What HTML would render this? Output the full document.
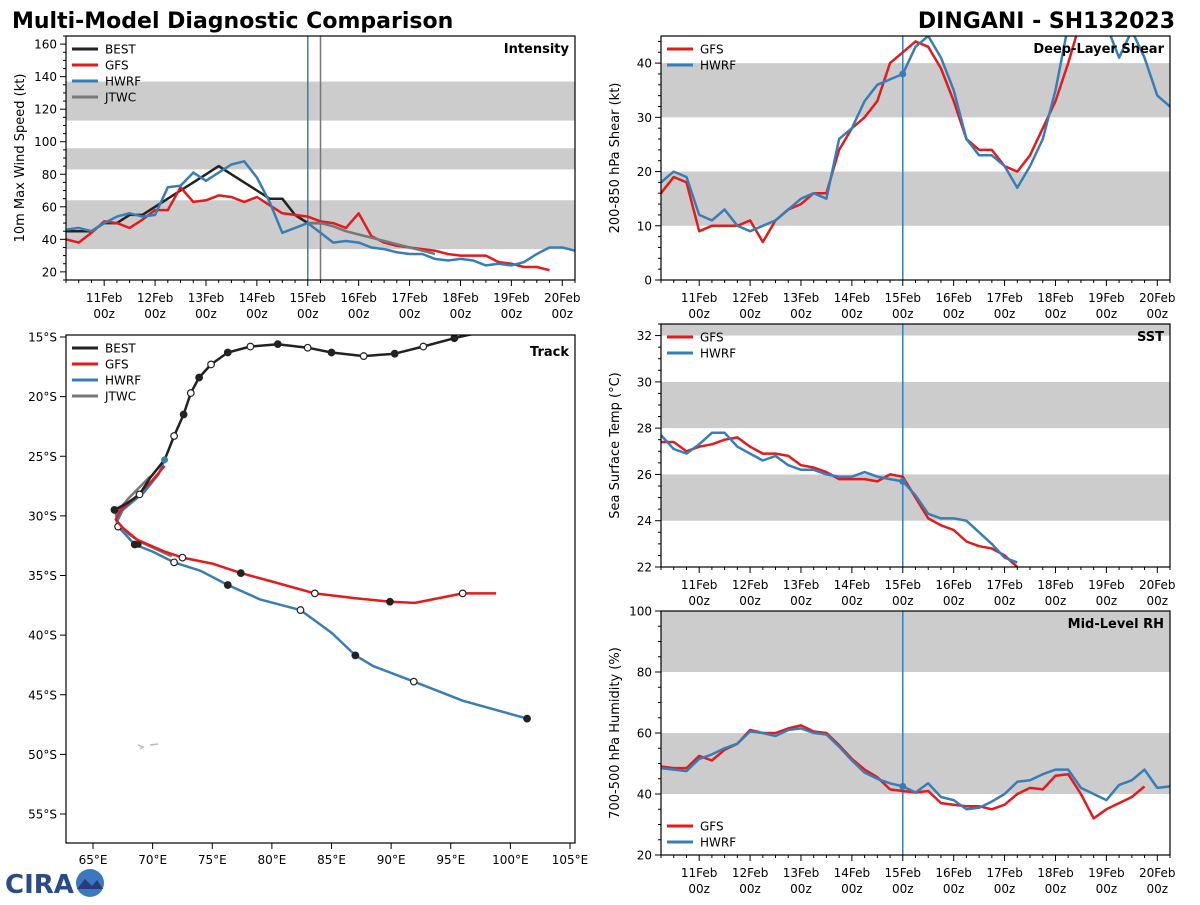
<!DOCTYPE html>
<html><head><meta charset="utf-8"><style>
body{margin:0;background:#fff;}
svg text{font-family:"DejaVu Sans","Liberation Sans",sans-serif;}
</style></head><body>
<svg id="s" width="1200" height="900" xmlns="http://www.w3.org/2000/svg">
<text x="12" y="28" font-size="22" font-weight="bold">Multi-Model Diagnostic Comparison</text>
<text x="1175" y="28" font-size="22" font-weight="bold" text-anchor="end">DINGANI - SH132023</text>
<g>
<text x="5" y="893" font-size="26" font-weight="bold" fill="#2a4a8a">CIRA</text>
<circle cx="90" cy="883" r="14" fill="#3a78c0"/>
<path d="M77 889 L85 879 L92 886 L97 880 L103 889 Z" fill="#2a3a7a"/>
</g>
</svg>
<script>
// ---- time-series data (days since 10Feb 00z, 6-hourly from t=0.25) ----
const intBest=[45,45,45,50,50,55,55,60,65,70,75,80,85,80,75,70,65,65,55,50,50];
const intJtwcStart=5.0;
const intJtwc=[50,50,48,45,43,41,39,37,35,33,31];
const intGfs=[40,38,44,51,50,47,52,58,58,72,63,64,67,66,63,66,61,56,55,54,51,50,47,56,42,38,36,35,34,33,31,30,30,30,26,25,23,23,21];
const intHwrf=[46,47,45,50,54,56,54,55,72,73,81,76,81,86,88,78,63,44,47,50,44,38,39,38,35,34,32,31,31,28,27,28,27,24,25,24,26,31,35,35,33];
const shrGfs=[16,19,18,9,10,10,10,11,7,11,13,14,16,16,24,28,30,33,40,42,44,43,39,33,26,24,24,21,20,23,28,33,40,48];
const shrHwrf=[18,20,19,12,11,13,10,9,10,11,13,15,16,15,26,28,33,36,37,38,43,45,41,35,26,23,23,21,17,21,26,35,47,50,47,47,41,46,41,34,32];
const sstGfs=[27.4,27.4,27.0,27.2,27.3,27.5,27.6,27.2,26.9,26.9,26.8,26.4,26.3,26.1,25.8,25.8,25.8,25.7,26.0,25.9,25.0,24.1,23.8,23.6,23.1,22.9,22.8,22.5,22.0];
const sstHwrf=[27.7,27.1,26.9,27.3,27.8,27.8,27.2,26.9,26.6,26.8,26.4,26.2,26.2,26.0,25.9,25.9,26.1,25.9,25.8,25.7,25.1,24.3,24.1,24.1,24.0,23.5,23.0,22.4,22.2];
const rhGfs=[49,48.5,48.5,52.5,51,54.5,56.5,61,60,60,61.5,62.5,60.5,60,56,51.5,48,45.5,41.5,41,40.5,41,37,36.5,36,36,35,36.5,40,42,41.5,46,46.5,40,32,35,37,39,42.5];
const rhHwrf=[48.5,48,47.5,51.5,53,55,56.5,60.5,60,59,61,61.5,60,59.5,55.5,51,47,45,43.5,42.5,40.5,43.5,39,38,35,35.5,37.5,40,44,44.5,46.5,48,48,42,40,38,43,44.5,48,42,42.5];
const dayLabels=["11Feb","12Feb","13Feb","14Feb","15Feb","16Feb","17Feb","18Feb","19Feb","20Feb"];
// ---- track data ----
const bestLon=[97.5,95.3,92.7,90.3,87.7,85.0,83.0,80.5,78.2,76.3,74.9,73.9,73.2,72.6,71.8,71.0,69.8,68.9,67.9,66.8];
const bestLat=[14.6,15.1,15.8,16.4,16.6,16.3,15.9,15.6,15.8,16.3,17.3,18.4,19.7,21.5,23.3,25.3,26.8,28.2,28.9,29.5];
const gfsLon=[71.0,70.0,68.5,67.3,66.9,67.5,68.7,71.0,72.5,75.0,77.4,80.0,83.6,87.0,89.9,92.0,96.0,98.8];
const gfsLat=[25.8,27.0,28.5,29.5,30.3,31.0,32.0,33.0,33.5,34.0,34.8,35.5,36.5,36.9,37.2,37.3,36.5,36.5];
const hwrfLon=[71.0,70.5,69.3,67.5,67.0,67.1,68.5,70.0,71.8,74.0,76.3,79.0,82.4,85.0,87.0,88.5,91.9,96.0,101.4];
const hwrfLat=[25.3,26.5,28.0,29.5,30.5,30.9,32.4,33.0,33.9,34.6,35.8,37.0,37.9,39.8,41.7,42.6,43.9,45.5,47.0];
const jtwcLon=[69.8,68.0,66.9,67.2,69.0,71.6];
const jtwcLat=[26.7,28.5,29.8,31.0,32.2,33.4];
const lonTicks=[65,70,75,80,85,90,95,100,105];
const latTicks=[15,20,25,30,35,40,45,50,55];

const S=document.getElementById('s');const NS='http://www.w3.org/2000/svg';
function mk(tag,attrs,parent){const e=document.createElementNS(NS,tag);for(const k in attrs)e.setAttribute(k,attrs[k]);(parent||S).appendChild(e);return e;}
function txt(x,y,s,size,anchor,parent,extra){const e=mk('text',Object.assign({x:x,y:y,'font-size':size,'text-anchor':anchor||'start'},extra||{}),parent);e.textContent=s;return e;}
const C={best:'#222',gfs:'#e41a1c',hwrf:'#377eb8',jtwc:'#777'};

function panel(o){
  const g=mk('g',{});
  
  
  const X0=o.x,X1=o.x+509,Y0=o.y,Y1=o.y+o.h;
  const fx=t=>X0+(t-0.25)*(509/10);
  const fy=v=>Y1-(v-o.ymin)/(o.ymax-o.ymin)*o.h;
  const cid='c'+o.name;
  const cp=mk('clipPath',{id:cid},g);mk('rect',{x:X0,y:Y0,width:509,height:o.h},cp);
  o.bands.forEach(b=>{const r=mk('rect',{x:X0,y:fy(Math.min(b[1],o.ymax)),width:509,height:fy(b[0])-fy(Math.min(b[1],o.ymax)),fill:'#cccccc'},g);
    
    });
  o.vlines.forEach(v=>{mk('line',{x1:fx(v[0]),x2:fx(v[0]),y1:Y0,y2:Y1,stroke:v[1],'stroke-width':1.5},g);});
  const sg=mk('g',{'clip-path':'url(#'+cid+')'},g);
  o.series.forEach(s=>{
    const pts=s.d.map((v,i)=>fx(s.t0+i*0.25).toFixed(1)+','+fy(v).toFixed(1)).join(' ');
    const p=mk('polyline',{points:pts,fill:'none',stroke:s.c,'stroke-width':2.5,'stroke-linejoin':'round'},sg);
    
    
    if(s.dot!=null){mk('circle',{cx:fx(s.dot),cy:fy(s.d[Math.round((s.dot-s.t0)/0.25)]),r:3.5,fill:s.c},sg);}
  });
  mk('rect',{x:X0,y:Y0,width:509,height:o.h,fill:'none',stroke:'#000','stroke-width':1.2},g);
  for(let v=o.ymin;v<=o.ymax+1e-6;v+=o.minor){const yy=fy(v);const maj=Math.abs(((v-o.ymaj0)/o.major)-Math.round((v-o.ymaj0)/o.major))<1e-6;
    mk('line',{x1:X0,x2:X0-(maj?6:3),y1:yy,y2:yy,stroke:'#000'},g);
    if(maj)txt(X0-9,yy+4.5,String(v),12,'end',g);}
  for(let t=0.25;t<=10.25+1e-6;t+=0.25){const xx=fx(t);const maj=Math.abs(t-Math.round(t))<1e-6&&t>=1;
    mk('line',{x1:xx,x2:xx,y1:Y1,y2:Y1+(maj?6:3),stroke:'#000'},g);
    if(maj){const l=txt(xx,Y1+22,dayLabels[t-1],12,'middle',g);
      txt(xx,Y1+38,'00z',12,'middle',g);}}
  const yt=txt(0,0,o.ylabel,13,'middle',g,{transform:'translate('+(o.x-42)+','+(Y0+o.h/2)+') rotate(-90)'});
  
  
  const tt=txt(X1-6,Y0+17,o.title,13,'end',g,{'font-weight':'bold'});
  
  
  legend(g,X0+6,o.legendY,o.series.filter(s=>s.leg).map(s=>[s.n,s.c]));
}
function legend(g,x,y,items){
  const lg=mk('g',{},g);
  
  
  items.forEach((it,i)=>{const yy=y+i*16;mk('line',{x1:x,x2:x+26,y1:yy,y2:yy,stroke:it[1],'stroke-width':3},lg);
    const t=txt(x+33,yy+4.5,it[0],12,'start',lg);
    
    });
}
panel({name:'intensity-panel',x:66,y:36,h:244,ymin:15,ymax:165,major:20,ymaj0:20,minor:5,ylabel:'10m Max Wind Speed (kt)',title:'Intensity',
  bands:[[34,64],[83,96],[113,137]],vlines:[[5.0,C.hwrf],[5.25,'#777']],legendY:49,
  series:[{n:'BEST',c:C.best,d:intBest,t0:0.25,leg:1},{n:'GFS',c:C.gfs,d:intGfs,t0:0.25,leg:1},{n:'HWRF',c:C.hwrf,d:intHwrf,t0:0.25,leg:1},{n:'JTWC',c:C.jtwc,d:intJtwc,t0:intJtwcStart,leg:1}]});
panel({name:'shear-panel',x:661,y:36,h:244,ymin:0,ymax:45,major:10,ymaj0:0,minor:2,ylabel:'200-850 hPa Shear (kt)',title:'Deep-Layer Shear',
  bands:[[10,20],[30,40]],vlines:[[5.0,C.hwrf]],legendY:49,
  series:[{n:'GFS',c:C.gfs,d:shrGfs,t0:0.25,leg:1},{n:'HWRF',c:C.hwrf,d:shrHwrf,t0:0.25,leg:1,dot:5.0}]});
panel({name:'sst-panel',x:661,y:324,h:243,ymin:22,ymax:32.5,major:2,ymaj0:22,minor:0.5,ylabel:'Sea Surface Temp (°C)',title:'SST',
  bands:[[24,26],[28,30],[32,32.5]],vlines:[[5.0,C.hwrf]],legendY:337,
  series:[{n:'GFS',c:C.gfs,d:sstGfs,t0:0.25,leg:1},{n:'HWRF',c:C.hwrf,d:sstHwrf,t0:0.25,leg:1,dot:5.0}]});
panel({name:'rh-panel',x:661,y:611,h:244,ymin:20,ymax:100,major:20,ymaj0:20,minor:5,ylabel:'700-500 hPa Humidity (%)',title:'Mid-Level RH',
  bands:[[40,60],[80,100]],vlines:[[5.0,C.hwrf]],legendY:826,
  series:[{n:'GFS',c:C.gfs,d:rhGfs,t0:0.25,leg:1},{n:'HWRF',c:C.hwrf,d:rhHwrf,t0:0.25,leg:1,dot:5.0}]});

(function(){
  const g=mk('g',{});
  
  
  const X0=66,Y0=335,W=509,H=508,k=11.925;
  const fx=lon=>93+(lon-65)*k, fy=lat=>337+(lat-15)*k;
  const cp=mk('clipPath',{id:'ctrack'},g);mk('rect',{x:X0,y:Y0,width:W,height:H},cp);
  const sg=mk('g',{'clip-path':'url(#ctrack)'},g);
  mk('path',{d:'M138 745 l5 2 l-3 2 M150 745 l8 -1',stroke:'#bbb','stroke-width':1.5,fill:'none'},sg);
  function trk(n,c,lon,lat,mark){
    const pts=lon.map((v,i)=>fx(v).toFixed(1)+','+fy(lat[i]).toFixed(1)).join(' ');
    const p=mk('polyline',{points:pts,fill:'none',stroke:c,'stroke-width':2.5,'stroke-linejoin':'round'},sg);
    
    
    mark.forEach(m=>{const i=m[0];mk('circle',{cx:fx(lon[i]),cy:fy(lat[i]),r:3.3,fill:m[1]?'#222':'#fff',stroke:'#222','stroke-width':1.2},sg);});
  }
  trk('JTWC',C.jtwc,jtwcLon,jtwcLat,[]);
  trk('HWRF',C.hwrf,hwrfLon,hwrfLat,[[5,0],[6,1],[8,0],[10,1],[12,0],[14,1],[16,0],[18,1]]);
  trk('GFS',C.gfs,gfsLon,gfsLat,[[8,0],[10,1],[12,0],[14,1],[16,0]]);
  trk('BEST',C.best,bestLon,bestLat,[[1,1],[2,0],[3,1],[4,0],[5,1],[6,0],[7,1],[8,0],[9,1],[10,0],[11,1],[12,0],[13,1],[14,0],[17,0],[19,1]]);
  mk('circle',{cx:fx(71.0),cy:fy(25.3),r:3.5,fill:C.hwrf},sg);
  mk('circle',{cx:fx(68.8),cy:fy(32.4),r:3.3,fill:'#222'},sg);
  mk('rect',{x:X0,y:Y0,width:W,height:H,fill:'none',stroke:'#000','stroke-width':1.2},g);
  lonTicks.forEach(v=>{const xx=fx(v);mk('line',{x1:xx,x2:xx,y1:Y0+H,y2:Y0+H+6,stroke:'#000'},g);
    const t=txt(xx,Y0+H+21,v+'°E',12,'middle',g);
    
    });
  latTicks.forEach(v=>{const yy=fy(v);mk('line',{x1:X0,x2:X0-6,y1:yy,y2:yy,stroke:'#000'},g);
    const t=txt(X0-9,yy+4.5,v+'°S',12,'end',g);
    
    });
  const tt=txt(X0+W-6,Y0+21,'Track',13,'end',g,{'font-weight':'bold'});
  
  
  legend(g,X0+6,348,[['BEST',C.best],['GFS',C.gfs],['HWRF',C.hwrf],['JTWC',C.jtwc]]);
})();
</script>
</body></html>
